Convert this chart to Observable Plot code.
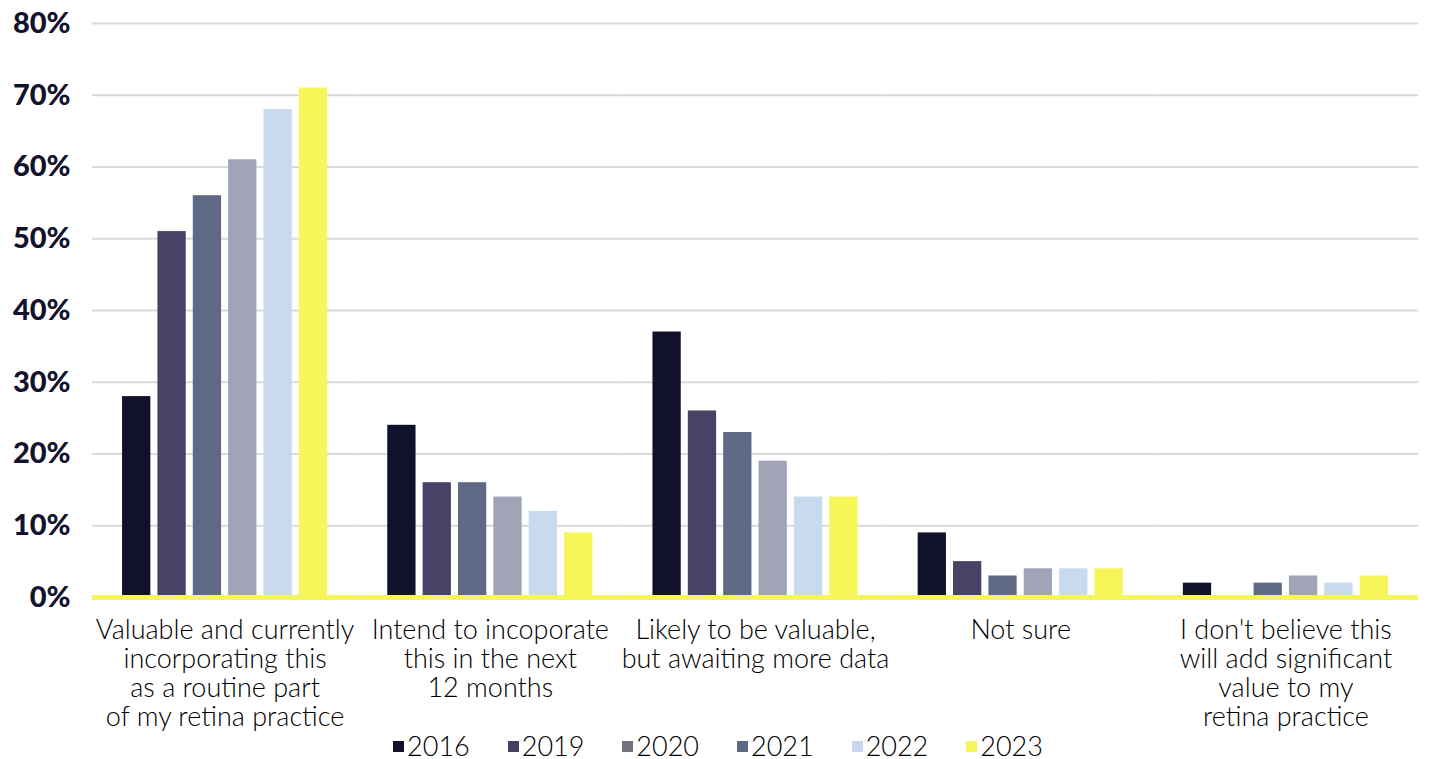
<!DOCTYPE html>
<html>
<head>
<meta charset="utf-8">
<script src="https://cdn.jsdelivr.net/npm/d3@7"></script>
<script src="https://cdn.jsdelivr.net/npm/@observablehq/plot@0.6"></script>
<style>
  html, body { margin: 0; padding: 0; background: #fff; }
  #chart { width: 1430px; }
  .legend {
    display: flex; justify-content: center; align-items: center;
    font-family: Lato, "Noto Sans", sans-serif; font-weight: 300;
    font-size: 27px; color: #000; height: 30px; margin-left: 6px; margin-top: -8px;
  }
  .legend .item { display: flex; align-items: center; margin: 0 19px; }
  .legend .sw { width: 11px; height: 11px; margin-right: 3px; margin-top: 3px; }
</style>
</head>
<body>
<div id="chart"></div>
<script>
// Survey response categories (x axis groups); line breaks as drawn
const categories = [
  "Valuable and currently\nincorporating this\nas a routine part\nof my retina practice",
  "Intend to incoporate\nthis in the next\n12 months",
  "Likely to be valuable,\nbut awaiting more data",
  "Not sure",
  "I don't believe this\nwill add significant\nvalue to my\nretina practice"
];
const years = ["2016", "2019", "2020", "2021", "2022", "2023"];
// Share of respondents (%) per category, one array per year
const v2016 = [28, 24, 37, 9, 2];
const v2019 = [51, 16, 26, 5, 0];
const v2020 = [56, 16, 23, 3, 2];
const v2021 = [61, 14, 19, 4, 3];
const v2022 = [68, 12, 14, 4, 2];
const v2023 = [71, 9, 14, 4, 3];
const yTicks = [0, 10, 20, 30, 40, 50, 60, 70, 80];

const barColors = ["#11112c", "#464366", "#5f6985", "#a0a4b6", "#cadaee", "#f6f55a"];
const legendColors = ["#121230", "#45405f", "#75717f", "#5f6885", "#c9d8ee", "#f5f55a"];

const series = [v2016, v2019, v2020, v2021, v2022, v2023];
const data = [];
categories.forEach((c, i) => {
  years.forEach((y, j) => data.push({category: c, year: y, value: series[j][i]}));
});

const chart = Plot.plot({
  width: 1430,
  height: 738,
  marginLeft: 92,
  marginRight: 12,
  marginTop: 23,
  marginBottom: 141,
  style: {fontFamily: "Lato, 'Noto Sans', sans-serif", background: "#fff"},
  fx: {domain: categories, padding: 0, label: null, round: false},
  x: {domain: years, paddingInner: 0.2, paddingOuter: 0.85, round: false, axis: null},
  y: {domain: [0, 80], label: null},
  color: {domain: years, range: barColors},
  marks: [
    Plot.ruleY(yTicks.filter(d => d > 0), {stroke: "#d9d9d9", strokeWidth: 2}),
    Plot.barY(data, {fx: "category", x: "year", y: "value", fill: "year"}),
    Plot.ruleY([0], {stroke: "#f6f55a", strokeWidth: 5}),
    Plot.axisY({
      ticks: yTicks, tickSize: 0, tickPadding: 22,
      tickFormat: d => d + "%",
      fontSize: 29, fontWeight: 900, fill: "#12122c", label: null
    }),
    Plot.axisFx({
      anchor: "bottom",
      tickSize: 0, tickPadding: 21, label: null,
      fontSize: 27, fontWeight: 300, fill: "#000",
      lineHeight: 1.07, lineAnchor: "top"
    })
  ]
});
document.getElementById("chart").appendChild(chart);

// Legend row under the plot
const legend = document.createElement("div");
legend.className = "legend";
years.forEach((y, i) => {
  const item = document.createElement("div");
  item.className = "item";
  const sw = document.createElement("span");
  sw.className = "sw";
  sw.style.background = legendColors[i];
  const t = document.createElement("span");
  t.textContent = y;
  item.appendChild(sw);
  item.appendChild(t);
  legend.appendChild(item);
});
document.getElementById("chart").appendChild(legend);
</script>
</body>
</html>
